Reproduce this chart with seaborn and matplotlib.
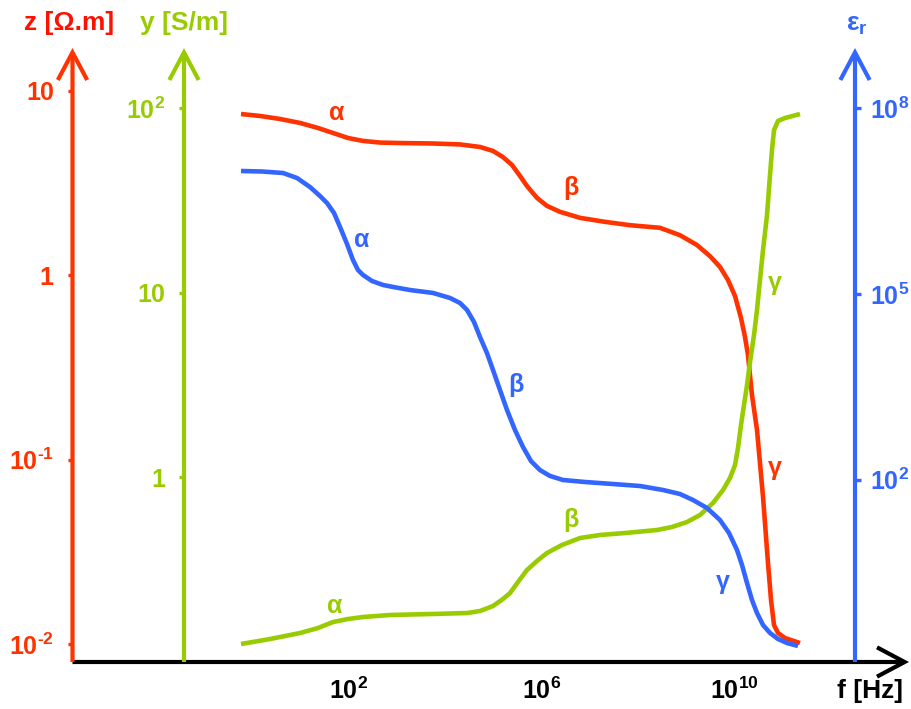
import numpy as np
import matplotlib
matplotlib.use("Agg")
import matplotlib.pyplot as plt
from matplotlib.ticker import NullLocator
import seaborn as sns

# ---------------- data ----------------
# frequency exponents log10(f / Hz) and values for each curve
z_logf = [-0.230, 0.164, 0.579, 0.994, 1.367, 1.678, 1.990, 2.301, 2.654, 3.068,
          3.753, 4.313, 4.728, 4.998, 5.205, 5.392, 5.558, 5.703, 5.911, 6.118,
          6.388, 6.803, 7.322, 7.840, 8.463, 8.878, 9.230, 9.500, 9.707, 9.873,
          10.019, 10.143, 10.226, 10.288, 10.371, 10.475, 10.600, 10.703, 10.766,
          10.828, 10.911, 11.056, 11.367]
z_vals = [7.50, 7.32, 7.05, 6.71, 6.30, 5.92, 5.56, 5.36, 5.25, 5.22,
          5.19, 5.13, 4.97, 4.73, 4.38, 3.97, 3.46, 3.05, 2.63, 2.38,
          2.21, 2.05, 1.95, 1.87, 1.81, 1.65, 1.46, 1.27, 1.11, 0.943,
          0.772, 0.587, 0.463, 0.369, 0.224, 0.145, 0.0627, 0.0275, 0.0173,
          0.01266, 0.01146, 0.01076, 0.01011]

y_logf = [-0.230, 0.371, 0.994, 1.367, 1.678, 1.990, 2.301, 2.861, 3.753, 4.459,
          4.728, 4.998, 5.205, 5.351, 5.517, 5.703, 5.911, 6.118, 6.429, 6.803,
          7.218, 7.737, 8.401, 8.712, 9.023, 9.293, 9.562, 9.770, 9.915, 10.019,
          10.081, 10.143, 10.205, 10.268, 10.330, 10.413, 10.475, 10.537, 10.600,
          10.683, 10.745, 10.786, 10.828, 10.911, 11.056, 11.367]
y_vals = [0.1244, 0.1324, 0.1427, 0.1519, 0.1637, 0.1700, 0.1743, 0.1787, 0.1810,
          0.1832, 0.1878, 0.2000, 0.2182, 0.2351, 0.2699, 0.3134, 0.3508, 0.3877,
          0.4283, 0.4673, 0.4853, 0.4975, 0.5165, 0.5363, 0.5707, 0.6230, 0.7237,
          0.8511, 0.9888, 1.163, 1.438, 1.917, 2.460, 3.159, 4.209, 5.897, 8.059,
          11.72, 17.05, 26.39, 43.48, 59.40, 76.26, 85.33, 88.61, 93.13]

eps_logf = [-0.230, 0.205, 0.641, 0.932, 1.201, 1.409, 1.554, 1.699, 1.824, 1.969,
            2.093, 2.197, 2.301, 2.488, 2.716, 2.923, 3.276, 3.753, 4.106, 4.313,
            4.459, 4.604, 4.728, 4.873, 4.998, 5.143, 5.288, 5.454, 5.620, 5.786,
            5.973, 6.180, 6.450, 6.907, 7.488, 8.048, 8.525, 8.878, 9.147, 9.438,
            9.707, 9.894, 10.060, 10.164, 10.268, 10.371, 10.475, 10.600, 10.745,
            10.911, 11.098, 11.326]
eps_vals = [9.71e6, 9.53e6, 9.01e6, 7.48e6, 5.35e6, 3.83e6, 2.95e6, 2.04e6, 1.21e6,
            6.43e5, 3.54e5, 2.44e5, 2.03e5, 1.62e5, 1.40e5, 1.30e5, 1.16e5, 1.04e5,
            8.62e4, 7.16e4, 5.52e4, 3.53e4, 2.02e4, 1.11e4, 5.92e3, 2.81e3, 1.34e3,
            635, 338, 200, 143, 115, 98.9, 91.8, 85.2, 79.1, 68.2, 58.7, 47.0, 34.9,
            22.3, 13.8, 7.32, 4.19, 2.14, 1.14, 0.702, 0.449, 0.334, 0.267, 0.230,
            0.206]

x_ticks = [1e2, 1e6, 1e10]
x_ticklabels = ["$10^{2}$", "$10^{6}$", "$10^{10}$"]
z_ticks = [1e-2, 1e-1, 1, 10]
z_ticklabels = ["$10^{\u2010 2}$", "$10^{\u2010 1}$", "1", "10"]
y_ticks = [1, 10, 100]
y_ticklabels = ["1", "10", "$10^{2}$"]
eps_ticks = [1e2, 1e5, 1e8]
eps_ticklabels = ["$10^{2}$", "$10^{5}$", "$10^{8}$"]

# region labels: (text, log10 f, value)
z_labels = [("α", 1.76, 7.6), ("β", 6.62, 2.98), ("γ", 10.85, 0.09)]
y_labels = [("α", 1.72, 0.2), ("β", 6.62, 0.585), ("γ", 10.85, 11.3)]
eps_labels = [("α", 2.28, 7.4e5), ("β", 5.475, 3.4e3), ("γ", 9.77, 2.2)]

RED = "#FF3300"
RED_T = "#FF1100"
GREEN = "#99CC00"
BLUE = "#3366FF"

# ---------------- style ----------------
sns.set_style("white")
plt.rcParams["font.family"] = ["Liberation Sans", "DejaVu Sans"]
plt.rcParams["font.weight"] = "bold"
plt.rcParams["mathtext.fontset"] = "custom"
plt.rcParams["mathtext.rm"] = "Liberation Sans:bold"
plt.rcParams["mathtext.it"] = "Liberation Sans:bold"
plt.rcParams["mathtext.bf"] = "Liberation Sans:bold"
plt.rcParams["mathtext.sf"] = "Liberation Sans:bold"
plt.rcParams["mathtext.default"] = "rm"

W, H = 911, 709
fig = plt.figure(figsize=(W / 100, H / 100), dpi=100)
L, R, B, T = 72.5, 909, 662, 48
ax = fig.add_axes([L / W, (H - B) / H, (R - L) / W, (B - T) / H])
axg = ax.twinx()
axb = ax.twinx()

for a in (ax, axg, axb):
    a.set_facecolor("none")
    for s in a.spines.values():
        s.set_visible(False)
    a.set_xscale("log")
    a.set_yscale("log")

# pixel -> data mapping for the axes limits
px_dec = 48.2
XLIM = (10 ** (2 - (348.5 - L) / px_dec), 10 ** (2 + (R - 348.5) / px_dec))
ax.set_xlim(*XLIM)
ax.set_ylim(10 ** (1 - (B - 91) / 184.3), 10 ** (1 + (91 - T) / 184.3))
axg.set_ylim(10 ** (2 - (B - 108.3) / 184.4), 10 ** (2 + (108.3 - T) / 184.4))
axb.set_ylim(10 ** (8 - (B - 108.3) / 61.9), 10 ** (8 + (108.3 - T) / 61.9))

gx = (184 - L) / (R - L)
bx = (855 - L) / (R - L)
axg.spines["left"].set_position(("axes", gx))
axb.spines["right"].set_position(("axes", bx))

# curves
lw = 3.3
kw = dict(linewidth=lw, sort=False, estimator=None, solid_capstyle="butt",
          solid_joinstyle="round")
sns.lineplot(x=np.power(10.0, z_logf), y=z_vals, ax=ax, color=RED, **kw)
sns.lineplot(x=np.power(10.0, y_logf), y=y_vals, ax=axg, color=GREEN, **kw)
sns.lineplot(x=np.power(10.0, eps_logf), y=eps_vals, ax=axb, color=BLUE, **kw)
for a in (ax, axg, axb):
    a.set_xlabel("")
    a.set_ylabel("")
ax.set_xlim(*XLIM)

# ticks
TS = 18
ax.set_xticks(x_ticks)
ax.set_xticklabels(x_ticklabels)
ax.xaxis.set_minor_locator(NullLocator())
ax.tick_params(axis="x", direction="out", length=4, width=2.4, color="black",
               labelcolor="black", labelsize=TS, pad=7)

ax.set_yticks(z_ticks)
ax.set_yticklabels(z_ticklabels)
ax.yaxis.set_minor_locator(NullLocator())
ax.yaxis.tick_left()
ax.tick_params(axis="y", direction="out", length=3.5, width=2.4, color=RED,
               labelcolor=RED, labelsize=TS, pad=10)

axg.yaxis.tick_left()
axg.set_yticks(y_ticks)
axg.set_yticklabels(y_ticklabels)
axg.yaxis.set_minor_locator(NullLocator())
axg.tick_params(axis="y", direction="out", length=3.5, width=2.4, color=GREEN,
                labelcolor=GREEN, labelsize=TS, pad=10)

axb.yaxis.tick_right()
axb.set_yticks(eps_ticks)
axb.set_yticklabels(eps_ticklabels)
axb.yaxis.set_minor_locator(NullLocator())
axb.tick_params(axis="y", direction="out", length=4, width=2.4, color=BLUE,
                labelcolor=BLUE, labelsize=TS, pad=7)

# axis arrows
astyle = "->,head_length=0.62,head_width=0.33"
def arrow(a, x0, y0, x1, y1, color, z):
    a.annotate("", xy=(x1, y1), xytext=(x0, y0), xycoords="axes fraction",
               textcoords="axes fraction", annotation_clip=False, zorder=z,
               arrowprops=dict(arrowstyle=astyle, color=color, lw=3.0,
                               mutation_scale=32, shrinkA=0, shrinkB=0,
                               capstyle="butt", joinstyle="miter"))

arrow(ax, 0, 0, 1, 0, "black", 3)
arrow(ax, 0, 0, 0, 1, RED, 4)
arrow(axb, gx, 0, gx, 1, GREEN, 4)
arrow(axb, bx, 0, bx, 1, BLUE, 4)

# region labels
fs_g = 18
for t, lf, v in z_labels:
    ax.text(10 ** lf, v, t, color=RED, fontsize=fs_g, fontweight="bold",
            ha="center", va="center")
for t, lf, v in y_labels:
    axg.text(10 ** lf, v, t, color=GREEN, fontsize=fs_g, fontweight="bold",
             ha="center", va="center")
for t, lf, v in eps_labels:
    axb.text(10 ** lf, v, t, color=BLUE, fontsize=fs_g, fontweight="bold",
             ha="center", va="center")

# axis titles
fig.text(24 / W, 1 - 23 / H, "z [Ω.m]", color=RED_T, fontsize=19, fontweight="bold",
         ha="left", va="center")
fig.text(140 / W, 1 - 23 / H, "y [S/m]", color=GREEN, fontsize=19, fontweight="bold",
         ha="left", va="center")
fig.text(857 / W, 1 - 25 / H, "$ε_{r}$", color=BLUE, fontsize=19,
         ha="center", va="center")
fig.text(903 / W, 1 - 691 / H, "f [Hz]", color="black", fontsize=19, fontweight="bold",
         ha="right", va="center")

fig.savefig("out.png", dpi=100)
